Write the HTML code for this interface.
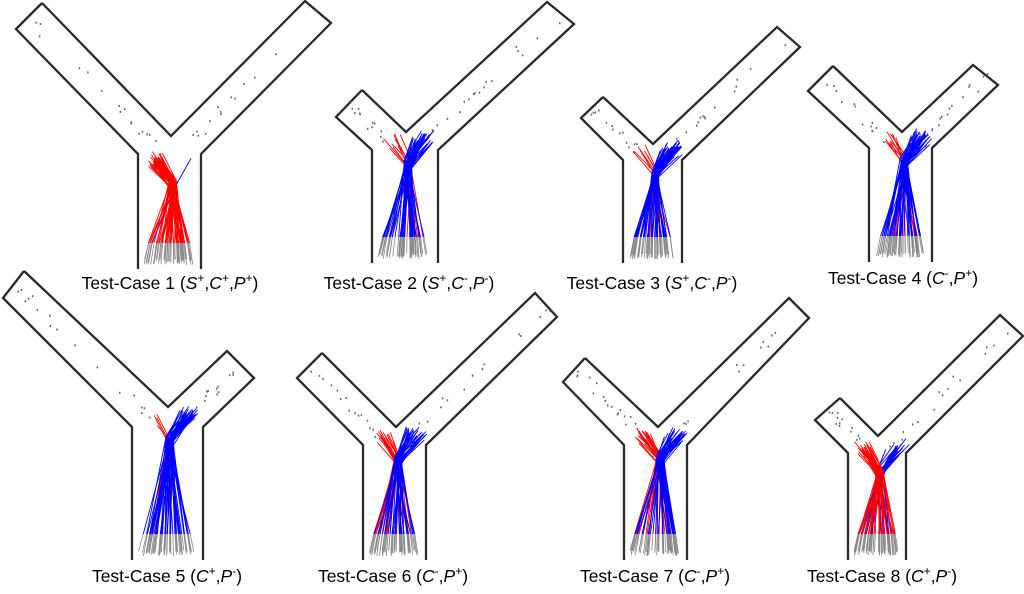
<!DOCTYPE html>
<html><head><meta charset="utf-8"><style>
html,body{margin:0;padding:0;background:#fff;width:1024px;height:594px;overflow:hidden}
svg{display:block}
text{font-family:"Liberation Sans",sans-serif;font-size:17.5px;fill:#000}
</style></head><body>
<svg id="s" width="1024" height="594" xmlns="http://www.w3.org/2000/svg">
<g id="g"></g>
<text x="170" y="289" text-anchor="middle">Test-Case 1 (<tspan font-style="italic">S</tspan><tspan baseline-shift="super" font-size="12">+</tspan>,<tspan font-style="italic">C</tspan><tspan baseline-shift="super" font-size="12">+</tspan>,<tspan font-style="italic">P</tspan><tspan baseline-shift="super" font-size="12">+</tspan>)</text>
<text x="409" y="289" text-anchor="middle">Test-Case 2 (<tspan font-style="italic">S</tspan><tspan baseline-shift="super" font-size="12">+</tspan>,<tspan font-style="italic">C</tspan><tspan baseline-shift="super" font-size="12">-</tspan>,<tspan font-style="italic">P</tspan><tspan baseline-shift="super" font-size="12">-</tspan>)</text>
<text x="652" y="289" text-anchor="middle">Test-Case 3 (<tspan font-style="italic">S</tspan><tspan baseline-shift="super" font-size="12">+</tspan>,<tspan font-style="italic">C</tspan><tspan baseline-shift="super" font-size="12">-</tspan>,<tspan font-style="italic">P</tspan><tspan baseline-shift="super" font-size="12">-</tspan>)</text>
<text x="903" y="284" text-anchor="middle">Test-Case 4 (<tspan font-style="italic">C</tspan><tspan baseline-shift="super" font-size="12">-</tspan>,<tspan font-style="italic">P</tspan><tspan baseline-shift="super" font-size="12">+</tspan>)</text>
<text x="167" y="582" text-anchor="middle">Test-Case 5 (<tspan font-style="italic">C</tspan><tspan baseline-shift="super" font-size="12">+</tspan>,<tspan font-style="italic">P</tspan><tspan baseline-shift="super" font-size="12">-</tspan>)</text>
<text x="393" y="582" text-anchor="middle">Test-Case 6 (<tspan font-style="italic">C</tspan><tspan baseline-shift="super" font-size="12">-</tspan>,<tspan font-style="italic">P</tspan><tspan baseline-shift="super" font-size="12">+</tspan>)</text>
<text x="655" y="582" text-anchor="middle">Test-Case 7 (<tspan font-style="italic">C</tspan><tspan baseline-shift="super" font-size="12">-</tspan>,<tspan font-style="italic">P</tspan><tspan baseline-shift="super" font-size="12">+</tspan>)</text>
<text x="882" y="582" text-anchor="middle">Test-Case 8 (<tspan font-style="italic">C</tspan><tspan baseline-shift="super" font-size="12">+</tspan>,<tspan font-style="italic">P</tspan><tspan baseline-shift="super" font-size="12">-</tspan>)</text>
</svg>
<script>
var seed=7;function r(){seed=(seed*16807)%2147483647;return seed/2147483647;}
var Ys=[
 [[16,29],[42,3],138,201,154,269,[171,136],[305,1],[331,23],0.92,30],
 [[336,117],[362,90],372,438,150,263,[406,132],[547,2],[574,24],0.12,14],
 [[581,118],[603,97],623,682,160,263,[653,144],[777,27],[800,47],0.1,14],
 [[808,91],[833,66],869,932,148,262,[902,132],[973,65],[998,85],0.2,14],
 [[3,298],[24,271],132,203,427,560,[168,407],[227,351],[254,378],0.1,14],
 [[297,378],[322,353],363,426,445,560,[396,427],[535,293],[557,317],0.3,14],
 [[563,382],[585,358],624,687,445,560,[658,427],[789,298],[809,318],0.45,14],
 [[815,420],[840,398],848,906,453,560,[878,436],[1000,315],[1023,336],0.6,20]
];
var h='';
Ys.forEach(function(y){
 var L1=y[0],L2=y[1],sl=y[2],sr=y[3],st=y[4],sb=y[5],V=y[6],R1=y[7],R2=y[8],rf=y[9],cd=y[10];
 h+='<path d="M'+L2+' L'+L1+' L'+sl+','+st+' L'+sl+','+sb+' M'+L2+' L'+V+' L'+R1+' L'+R2+' L'+sr+','+st+' L'+sr+','+sb+'" fill="none" stroke="#2a2a2a" stroke-width="2.3"/>';
 for(var i=0;i<30;i++){var t=r(),a=r()<0.5;var p,q;
  if(a){p=[(L1[0]+L2[0])/2,(L1[1]+L2[1])/2];q=[(sl+V[0])/2,st-10];}else{p=[(R1[0]+R2[0])/2,(R1[1]+R2[1])/2];q=[(sr+V[0])/2,st-10];}
  var x=p[0]+(q[0]-p[0])*t+(r()-0.5)*10,yy=p[1]+(q[1]-p[1])*t+(r()-0.5)*10;
  h+='<rect x="'+x.toFixed(1)+'" y="'+yy.toFixed(1)+'" width="1.5" height="2" fill="#666"/>';}
 var cvx=V[0]+2,cvy=st+cd;
 var red=[],blue=[];
 for(var i=0;i<55;i++){
  var bx=sl+6+r()*(sr-sl-14),by=sb-4-r()*6;
  var my=sb-26, mx=bx+(cvx-bx)*0.15;
  h+='<line x1="'+bx.toFixed(1)+'" y1="'+by.toFixed(1)+'" x2="'+mx.toFixed(1)+'" y2="'+my+'" stroke="#888" stroke-width="0.8"/>';
  var isr=r()<rf;
  var kx=cvx+(r()-0.5)*8,ky=cvy+(r()-0.5)*10;
  var ex,ey;
  if(isr){ex=kx-10-r()*12;ey=ky-18-r()*10;}else{ex=kx+8+r()*18;ey=ky-20-r()*10;}
  var s='<path d="M'+mx.toFixed(1)+','+my+' L'+kx.toFixed(1)+','+ky.toFixed(1)+' L'+ex.toFixed(1)+','+ey.toFixed(1)+'" fill="none" stroke="'+(isr?'#f00':'#00f')+'" stroke-width="0.9"/>';
  if(isr)red.push(s);else blue.push(s);
 }
 h+= rf>0.5 ? blue.join('')+red.join('') : red.join('')+blue.join('');
});
document.getElementById('g').innerHTML=h;
</script>
</body></html>
